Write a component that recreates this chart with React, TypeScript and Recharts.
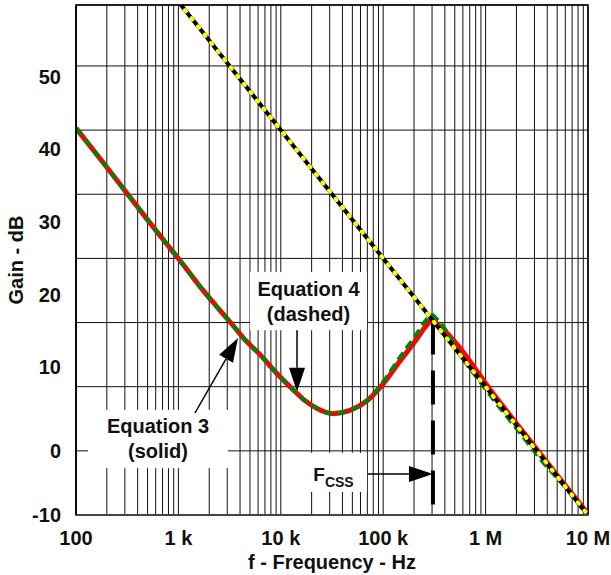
import {
  ComposedChart,
  Line,
  XAxis,
  YAxis,
  CartesianGrid,
  ReferenceArea,
  ReferenceLine,
  Label,
} from "recharts";

// frequency (Hz) / gain (dB)
const eq3Freq = [100, 200, 500, 712, 1116, 1626, 2366, 3436, 4302, 6270, 9120, 13250, 17000, 22600, 32300, 47400, 69500, 99500, 146000, 214000, 260000, 300000, 350000, 525000, 1100000, 2900000, 5000000, 8900000, 10000000];
const eq3Gain = [50.3, 44.2, 36.0, 32.9, 29.0, 25.6, 22.5, 19.5, 17.6, 15.0, 12.1, 9.5, 7.9, 6.6, 5.8, 6.3, 7.8, 10.4, 14.0, 17.5, 19.4, 20.3, 19.6, 16.6, 9.6, 1.0, -3.8, -8.8, -9.8];

const eq4Freq = [100, 200, 500, 712, 1116, 1626, 2366, 3436, 4302, 6270, 9120, 13250, 17000, 22600, 32300, 47400, 69500, 99500, 146000, 214000, 260000, 300000, 330000, 384000, 562000, 881000, 1290000, 2170000, 3400000, 6240000, 8730000, 10000000];
const eq4Gain = [50.3, 44.2, 36.0, 32.9, 29.0, 25.6, 22.5, 19.5, 17.6, 15.0, 12.1, 9.5, 7.9, 6.6, 5.8, 6.3, 7.9, 10.7, 14.6, 18.3, 20.3, 21.2, 20.6, 19.4, 15.0, 10.8, 7.3, 2.8, -1.2, -6.0, -8.9, -10];

const asymFreq = [1000, 10000000];
const asymGain = [70, -10];

const fCss = 306000;

const decades = [100, 1000, 10000, 100000, 1000000, 10000000];
const decadeLabels = ["100", "1 k", "10 k", "100 k", "1 M", "10 M"];
const gridGain = [-10, 0, 10, 20, 30, 40, 50, 60];
// the printed gain labels sit off the grid lines in the original
const gainLabelPos = [-10, 0, 13.1, 24.3, 35.7, 47.1, 58.3];
const gainLabels = ["-10", "0", "10", "20", "30", "40", "50"];

const yMin = -10;
const yMax = 69.5;

const xTicks: number[] = [];
decades.slice(0, -1).forEach((d) => {
  for (let k = 1; k <= 9; k++) xTicks.push(d * k);
});
xTicks.push(10000000);

const toPoints = (fs: number[], gs: number[]) => fs.map((f, i) => ({ f, g: gs[i] }));
const eq3Data = toPoints(eq3Freq, eq3Gain);
const eq4Data = toPoints(eq4Freq, eq4Gain);
const asymData = toPoints(asymFreq, asymGain);

const FONT = "'Liberation Sans', Arial, Helvetica, sans-serif";

const Arrow = (props: any) => {
  const { x1, y1, x2, y2 } = props;
  const dx = x2 - x1;
  const dy = y2 - y1;
  const len = Math.sqrt(dx * dx + dy * dy);
  const ux = dx / len;
  const uy = dy / len;
  const headLen = 24;
  const headW = 8;
  const bx = x2 - ux * headLen;
  const by = y2 - uy * headLen;
  const pts = `${x2},${y2} ${bx - uy * headW},${by + ux * headW} ${bx + uy * headW},${by - ux * headW}`;
  return (
    <g>
      <line x1={x1} y1={y1} x2={bx} y2={by} stroke="#000" strokeWidth={1.5} />
      <polygon points={pts} fill="#000" />
    </g>
  );
};

const textBox = (lines: string[]) => (props: any) => {
  const { x, y, width, height } = props;
  const cx = x + width / 2;
  const cy = y + height / 2;
  return (
    <g>
      <rect x={x} y={y} width={width} height={height} fill="#fff" />
      {lines.map((t, i) => (
        <text
          key={i}
          x={cx}
          y={cy + (i - (lines.length - 1) / 2) * 25}
          textAnchor="middle"
          dominantBaseline="central"
          fontFamily={FONT}
          fontWeight="bold"
          fontSize={20}
          fill="#111"
        >
          {t}
        </text>
      ))}
    </g>
  );
};

const fcssBox = (props: any) => {
  const { x, y, width, height } = props;
  const cx = x + width / 2;
  const cy = y + height / 2;
  return (
    <g>
      <rect x={x} y={y} width={width} height={height} fill="#fff" />
      <text x={cx} y={cy + 9} textAnchor="middle" fontFamily={FONT} fontWeight="bold" fill="#111">
        <tspan fontSize={19}>F</tspan>
        <tspan fontSize={14} dy={6}>CSS</tspan>
      </text>
    </g>
  );
};

const YTitle = (props: any) => {
  const { viewBox } = props;
  const cx = 16;
  const cy = viewBox.y + viewBox.height / 2;
  return (
    <text
      x={cx}
      y={cy}
      transform={`rotate(-90 ${cx} ${cy})`}
      textAnchor="middle"
      dominantBaseline="central"
      fontFamily={FONT}
      fontWeight="bold"
      fontSize={20}
      fill="#111"
    >
      Gain - dB
    </text>
  );
};

const tickStyle = { fontFamily: FONT, fontWeight: "bold", fontSize: 20, fill: "#111" };

export default function App() {
  return (
    <div style={{ position: "absolute", left: 0, top: 0, background: "#fff" }}>
      <ComposedChart width={611} height={575} margin={{ top: 5, right: 23, bottom: 0, left: 0 }}>
        <XAxis
          type="number"
          dataKey="f"
          scale="log"
          domain={[100, 10000000]}
          ticks={xTicks}
          interval={0}
          allowDataOverflow
          tickLine={false}
          tickSize={0}
          tickMargin={16}
          height={60}
          axisLine={{ stroke: "#444", strokeWidth: 2 }}
          tick={tickStyle}
          tickFormatter={(v: number) => {
            const i = decades.indexOf(v);
            return i >= 0 ? decadeLabels[i] : "";
          }}
        >
          <Label
            value="f - Frequency - Hz"
            position="insideBottom"
            offset={6}
            style={{ fontFamily: FONT, fontWeight: "bold", fontSize: 20, fill: "#111" }}
          />
        </XAxis>
        <YAxis
          yAxisId="lbl"
          type="number"
          domain={[yMin, yMax]}
          ticks={gainLabelPos}
          interval={0}
          allowDataOverflow
          width={76}
          tickLine={false}
          tickSize={0}
          tickMargin={15}
          axisLine={{ stroke: "#000", strokeWidth: 1.5 }}
          tick={tickStyle}
          tickFormatter={(v: number) => {
            const i = gainLabelPos.indexOf(v);
            return i >= 0 ? gainLabels[i] : "";
          }}
        >
          <Label content={<YTitle />} />
        </YAxis>
        <YAxis
          yAxisId="db"
          type="number"
          domain={[yMin, yMax]}
          ticks={gridGain}
          allowDataOverflow
          width={0}
          hide
        />
        <CartesianGrid yAxisId="db" stroke="#111" strokeWidth={1} />
        <ReferenceArea
          yAxisId="db"
          x1={100}
          x2={10000000}
          y1={yMin}
          y2={yMax}
          fill="none"
          stroke="#000"
          strokeWidth={1.5}
        />
        <ReferenceArea yAxisId="db" x1={5000} x2={69500} y1={18.8} y2={27.9} shape={textBox(["Equation 4", "(dashed)"])} />
        <ReferenceArea yAxisId="db" x1={131} x2={3050} y1={-2.7} y2={6.4} shape={textBox(["Equation 3", "(solid)"])} />
        <ReferenceArea yAxisId="db" x1={15400} x2={69500} y1={-6.4} y2={-0.3} shape={fcssBox} />
        <ReferenceLine yAxisId="db" segment={[{ x: 14400, y: 18.8 }, { x: 14400, y: 9.2 }]} shape={Arrow} />
        <ReferenceLine yAxisId="db" segment={[{ x: 1452, y: 5.9 }, { x: 3820, y: 17.6 }]} shape={Arrow} />
        <ReferenceLine yAxisId="db" segment={[{ x: 71100, y: -3.6 }, { x: fCss, y: -3.6 }]} shape={Arrow} />
        <ReferenceLine
          yAxisId="db"
          segment={[{ x: fCss, y: 20.3 }, { x: fCss, y: -10 }]}
          stroke="#000"
          strokeWidth={4}
          strokeDasharray="34 16"
        />
        <Line
          yAxisId="db"
          data={eq3Data}
          dataKey="g"
          type="monotone"
          stroke="#ff0000"
          strokeWidth={5}
          dot={false}
          isAnimationActive={false}
        />
        <Line
          yAxisId="db"
          data={eq4Data}
          dataKey="g"
          type="monotone"
          stroke="#0b7d0b"
          strokeWidth={4}
          strokeDasharray="9 5"
          dot={false}
          isAnimationActive={false}
        />
        <Line
          yAxisId="db"
          data={asymData}
          dataKey="g"
          type="linear"
          stroke="#000"
          strokeWidth={4}
          dot={false}
          isAnimationActive={false}
        />
        <Line
          yAxisId="db"
          data={asymData}
          dataKey="g"
          type="linear"
          stroke="#ffff00"
          strokeWidth={4}
          strokeLinecap="round"
          strokeDasharray="1.5 9"
          dot={false}
          isAnimationActive={false}
        />
      </ComposedChart>
    </div>
  );
}
